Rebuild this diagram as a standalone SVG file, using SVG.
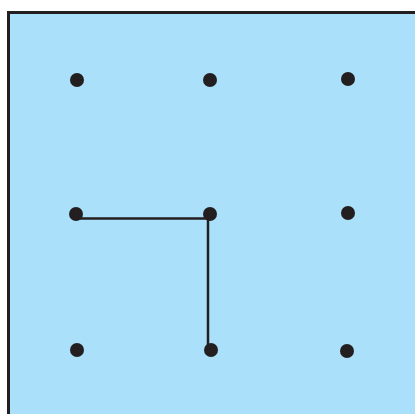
<svg xmlns="http://www.w3.org/2000/svg" width="415" height="414" viewBox="0 0 415 414">
<style>
.dot{fill:#231f20}
.conn{fill:none;stroke:#231f20;stroke-width:2.5}
</style>
<rect x="0" y="0" width="415" height="414" fill="#ffffff"/>
<rect x="8.5" y="12.5" width="412" height="410" fill="#abe0fa" stroke="#231f20" stroke-width="3"/>
<g id="connectors">
<polyline class="conn" points="77,218.5 208,218.5 208,350"/>
</g>
<g id="n1"><circle class="dot" cx="77" cy="80" r="7"/></g>
<g id="n2"><circle class="dot" cx="210" cy="80" r="7"/></g>
<g id="n3"><circle class="dot" cx="348" cy="79" r="7"/></g>
<g id="n4"><circle class="dot" cx="76" cy="214" r="7"/></g>
<g id="n5"><circle class="dot" cx="210" cy="214" r="7"/></g>
<g id="n6"><circle class="dot" cx="348" cy="213" r="7"/></g>
<g id="n7"><circle class="dot" cx="77" cy="350" r="7"/></g>
<g id="n8"><circle class="dot" cx="211" cy="350" r="7"/></g>
<g id="n9"><circle class="dot" cx="347" cy="351" r="7"/></g>
</svg>
